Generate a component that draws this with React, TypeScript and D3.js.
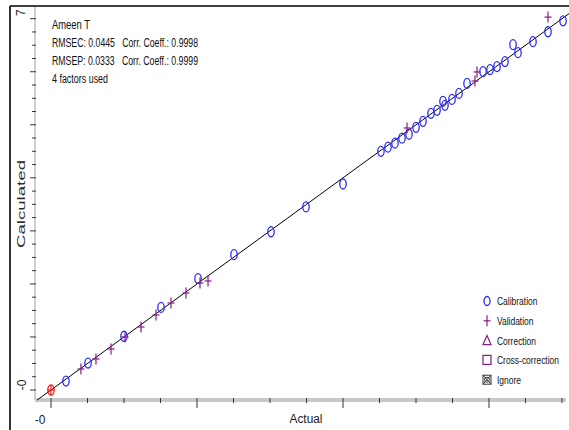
import React from "react";
import * as d3 from "d3";

// Calibration samples: actual vs. calculated
const calActual = [0.205, 0.507, 1.0, 1.507, 2.014, 2.507, 3.014, 3.493, 4.0, 4.52, 4.616, 4.712, 4.808, 4.904, 5.0, 5.096, 5.205, 5.288, 5.37, 5.397, 5.493, 5.589, 5.699, 5.918, 6.014, 6.11, 6.219, 6.329, 6.397, 6.603, 6.808, 7.014];
const calPredicted = [0.169, 0.507, 1.013, 1.557, 2.101, 2.552, 2.983, 3.452, 3.884, 4.5, 4.578, 4.653, 4.747, 4.822, 4.953, 5.066, 5.216, 5.272, 5.44, 5.366, 5.478, 5.591, 5.779, 6.004, 6.041, 6.098, 6.191, 6.51, 6.36, 6.566, 6.754, 6.96];

// Validation samples: actual vs. calculated
const valActual = [0.41, 0.616, 0.822, 1.014, 1.233, 1.438, 1.644, 1.849, 2.041, 2.151, 4.877, 5.808, 5.836, 6.808];
const valPredicted = [0.396, 0.585, 0.773, 1.0, 1.188, 1.414, 1.64, 1.829, 2.017, 2.055, 4.94, 5.826, 5.996, 7.03];

// Currently selected sample
const selActual = [0];
const selPredicted = [0];

const statLines = ["Ameen T", "RMSEC: 0.0445   Corr. Coeff.: 0.9998", "RMSEP: 0.0333   Corr. Coeff.: 0.9999", "4 factors used"];
const legendLabels = ["Calibration", "Validation", "Correction", "Cross-correction", "Ignore"];

const W = 569;
const H = 430;
const BLUE = "#2a2aff";
const PURPLE = "#861a86";
const RED = "#ff1a1a";
const NARROW = "'Liberation Sans Narrow', 'Arial Narrow', 'Liberation Sans', Arial, sans-serif";
const SANS = "'Liberation Sans', Arial, sans-serif";

function Ellipse({ cx, cy, color }: { cx: number; cy: number; color: string }) {
  return <ellipse cx={cx} cy={cy} rx={3.2} ry={5} fill="none" stroke={color} strokeWidth={1.3} />;
}

function Plus({ cx, cy, color }: { cx: number; cy: number; color: string }) {
  return (
    <g stroke={color} strokeWidth={1.2}>
      <line x1={cx - 3.5} x2={cx + 3.5} y1={cy} y2={cy} />
      <line x1={cx} x2={cx} y1={cy - 5.5} y2={cy + 5.5} />
    </g>
  );
}

export default function App() {
  const x = d3.scaleLinear().domain([0, 7]).range([51, 562]);
  const y = d3.scaleLinear().domain([0, 7]).range([390, 18.7]);

  const axisX = 35;
  const axisY = 400;

  const xTicks = d3.range(0, 7.01, 0.5);
  const yTicks = d3.range(0, 7.01, 0.25);

  const fit = d3.line<number>().x((d) => x(d)).y((d) => y(d));
  const fitPts = [-0.19, 7.1];

  return (
    <svg width={W} height={H} style={{ position: "absolute", left: 0, top: 0, background: "#fff" }}>
      <rect x={0} y={0} width={W} height={H} fill="#fff" />
      {/* outer frame */}
      <line x1={10} x2={W} y1={6} y2={6} stroke="#000" strokeWidth={1.6} />
      <line x1={10} x2={10} y1={6} y2={H} stroke="#000" strokeWidth={1.6} />

      {/* axes */}
      <line x1={axisX} x2={axisX} y1={7} y2={axisY} stroke="#cfcfcf" strokeWidth={2} />
      <line x1={axisX} x2={566} y1={axisY} y2={axisY} stroke="#c8c8c8" strokeWidth={4} />
      {yTicks.map((t, i) => {
        const major = i % 4 === 0;
        return <line key={"yt" + i} x1={major ? 30 : 32} x2={axisX + 1} y1={y(t)} y2={y(t)} stroke="#333" strokeWidth={1} />;
      })}
      {xTicks.map((t, i) => {
        const major = i % 4 === 0;
        return <line key={"xt" + i} x1={x(t)} x2={x(t)} y1={axisY - 2} y2={major ? axisY + 8 : axisY + 3} stroke="#333" strokeWidth={1} />;
      })}

      {/* tick labels */}
      <text x={40} y={424} fontFamily={SANS} fontSize={12} fill="#222" textAnchor="middle">-0</text>
      <text transform={`translate(26,${y(0) - 5}) rotate(-90)`} fontFamily={SANS} fontSize={12} fill="#222" textAnchor="middle">-0</text>
      <text transform={`translate(25,${y(7) - 6}) rotate(-90)`} fontFamily={SANS} fontSize={12} fill="#222" textAnchor="middle">7</text>

      {/* axis titles */}
      <text x={306} y={423} fontFamily={SANS} fontSize={12} fill="#222" textAnchor="middle" textLength={33} lengthAdjust="spacingAndGlyphs">Actual</text>
      <text transform="translate(25,204) rotate(-90)" fontFamily={SANS} fontSize={11} fill="#2a2a2a" textAnchor="middle" textLength={88} lengthAdjust="spacingAndGlyphs">Calculated</text>

      {/* fit line */}
      <path d={fit(fitPts) || ""} fill="none" stroke="#000" strokeWidth={1} />

      {/* calibration points */}
      {calActual.map((a, i) => (
        <Ellipse key={"c" + i} cx={x(a)} cy={y(calPredicted[i])} color={BLUE} />
      ))}
      {/* validation points */}
      {valActual.map((a, i) => (
        <Plus key={"v" + i} cx={x(a)} cy={y(valPredicted[i])} color={PURPLE} />
      ))}
      {/* selected sample */}
      {selActual.map((a, i) => (
        <g key={"s" + i}>
          <Ellipse cx={x(a)} cy={y(selPredicted[i])} color={RED} />
          <Plus cx={x(a)} cy={y(selPredicted[i])} color={RED} />
        </g>
      ))}

      {/* statistics block */}
      {statLines.map((s, i) => (
        <text key={"st" + i} x={52} y={29 + i * 18} fontFamily={NARROW} fontSize={12} fill="#111"
          textLength={i === 0 ? 38 : i === 3 ? 56 : 146} lengthAdjust="spacingAndGlyphs" xmlSpace="preserve">{s}</text>
      ))}

      {/* legend */}
      {legendLabels.map((l, i) => {
        const cy = 301 + i * 19.8;
        const cx = 487;
        let sym: React.ReactNode = null;
        if (i === 0) sym = <ellipse cx={cx} cy={cy} rx={3} ry={4.5} fill="none" stroke={BLUE} strokeWidth={1.3} />;
        if (i === 1) sym = <Plus cx={cx} cy={cy} color={PURPLE} />;
        if (i === 2) sym = <path d={`M${cx},${cy - 5}L${cx + 4},${cy + 4}L${cx - 4},${cy + 4}Z`} fill="none" stroke={PURPLE} strokeWidth={1.2} />;
        if (i === 3) sym = <rect x={cx - 4} y={cy - 5} width={8} height={9} fill="none" stroke={PURPLE} strokeWidth={1.2} />;
        if (i === 4)
          sym = (
            <g stroke="#333" strokeWidth={1} fill="none">
              <rect x={cx - 4} y={cy - 5} width={8} height={9} />
              <line x1={cx - 4} y1={cy - 5} x2={cx + 4} y2={cy + 4} />
              <line x1={cx + 4} y1={cy - 5} x2={cx - 4} y2={cy + 4} />
              <circle cx={cx} cy={cy - 0.5} r={2.5} />
            </g>
          );
        return (
          <g key={"lg" + i}>
            {sym}
            <text transform={`translate(497,${cy + 4}) scale(0.77,1)`} fontFamily={SANS} fontSize={11} fill="#111">{l}</text>
          </g>
        );
      })}
    </svg>
  );
}
